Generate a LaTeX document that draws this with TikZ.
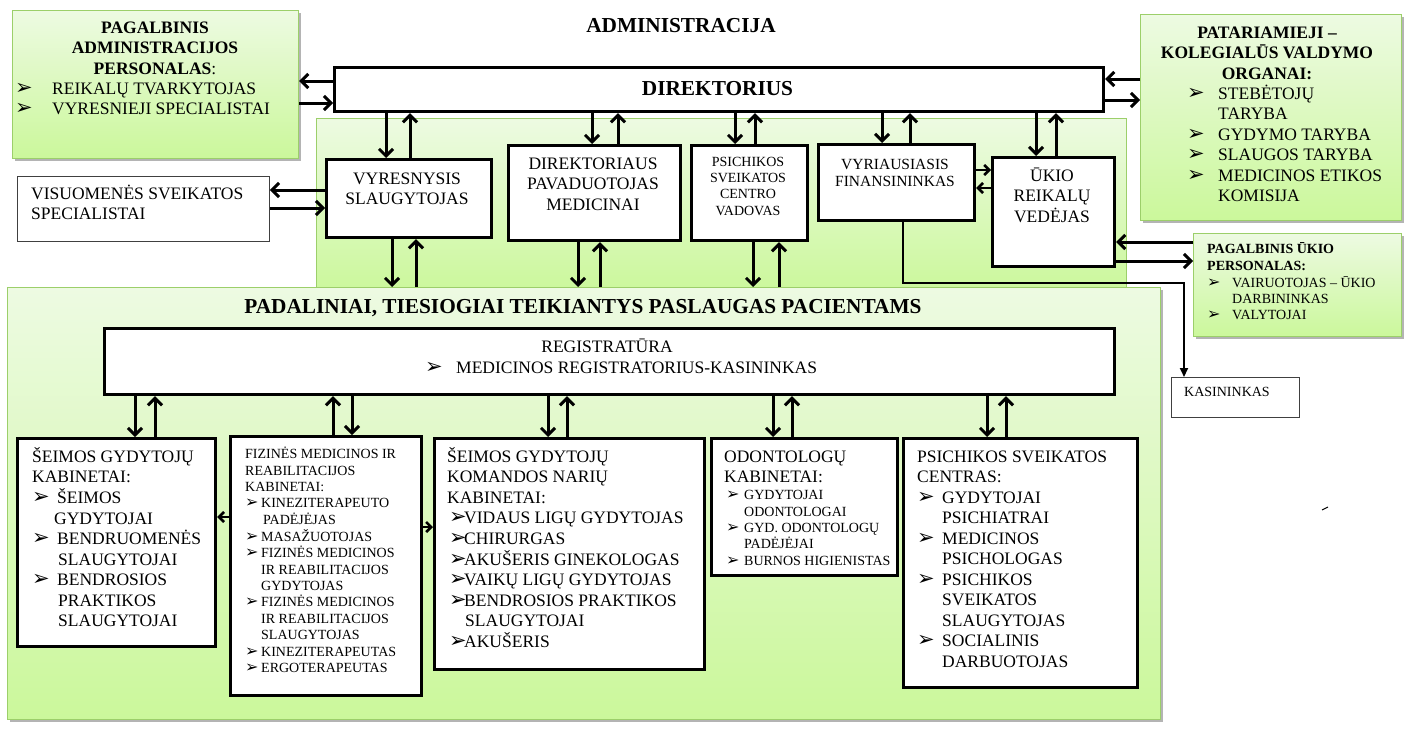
\documentclass[tikz,border=0pt]{standalone}
\usepackage{fontspec}
\setmainfont{Liberation Serif}
\newfontfamily\bulfont{DejaVu Sans}
\usetikzlibrary{arrows.meta,shadows}
\definecolor{gtop}{HTML}{EDFAE2}
\definecolor{gbot}{HTML}{CBF89B}
\definecolor{gline}{HTML}{9CCF6A}
\definecolor{shd}{HTML}{B4B4B4}
\newcommand{\tl}[1]{\begin{tabular}[t]{@{}l@{}}#1\end{tabular}}
\newcommand{\tc}[1]{\begin{tabular}[t]{@{}c@{}}#1\end{tabular}}
\newcommand{\bb}[2]{\makebox[#1][l]{\bulfont\fontsize{#2}{#2}\selectfont ➢}}
\newcommand{\bx}[6]{\node[#1,anchor=north west,minimum width={(#4)-(#2)},minimum height={(#5)-(#3)}] (#6) at (#2,#3) {};}
\begin{document}
\begin{tikzpicture}[x=1pt,y=-1pt,
  gbox/.style={draw=gline,line width=1.2pt,top color=gtop,bottom color=gbot,drop shadow={shadow xshift=2.5pt,shadow yshift=-2.5pt,opacity=1,fill=shd}},
  gzone/.style={draw=gline,line width=1.2pt,top color=gtop,bottom color=gbot},
  blk/.style={draw=black,line width=3.2pt,fill=white},
  thn/.style={draw=black!75,line width=0.9pt,fill=white},
  ar/.style={line width=3pt,-{Straight Barb[length=7pt,width=14pt]}},
  sar/.style={line width=2.6pt,-{Straight Barb[length=5pt,width=10pt]}},
  TX/.style={inner sep=0pt,font=\fontsize{17.5}{20.5}\selectfont},
  SX/.style={inner sep=0pt,font=\fontsize{14}{16.4}\selectfont},
  MX/.style={inner sep=0pt,font=\fontsize{15.5}{17.5}\selectfont},
  BH/.style={inner sep=0pt,font=\fontsize{21.3}{24}\selectfont\bfseries},
  BT/.style={inner sep=0pt,font=\fontsize{17.5}{20.8}\selectfont\bfseries},
  BS/.style={inner sep=0pt,font=\fontsize{14}{17}\selectfont\bfseries}]
\useasboundingbox (0,0) rectangle (1405,731);
% zones
\bx{gzone}{316}{118}{1126}{292}{midz}
\bx{gbox}{7}{287}{1160}{719}{lowz}
\bx{gbox}{12}{10}{298}{158}{pap}
\bx{gbox}{1140}{14}{1401}{220}{pat}
\bx{gbox}{1193}{233}{1401}{336}{puk}
% white boxes
\bx{blk}{333}{66}{1102}{110}{dir}
\bx{thn}{17}{176}{269}{241}{vis}
\bx{blk}{325}{158}{490}{236}{vyr}
\bx{blk}{507}{144}{679}{239}{dpm}
\bx{blk}{690}{144}{806}{239}{psv}
\bx{blk}{817}{143}{973}{219}{fin}
\bx{blk}{991}{156}{1113}{265}{uki}
\bx{thn}{1171}{377}{1299}{417}{kas}
\bx{blk}{103}{327}{1113}{393}{reg}
\bx{blk}{16}{437}{214}{645}{sgk}
\bx{blk}{229}{435}{420}{694}{fmr}
\bx{blk}{433}{437}{703}{668}{sgkn}
\bx{blk}{710}{437}{896}{574}{odo}
\bx{blk}{902}{437}{1136}{686}{psc}
% texts
\node[BH,anchor=base] (tadm) at (681,32) {ADMINISTRACIJA};
\node[BH,anchor=base] (tdir) at (717.5,95) {DIREKTORIUS};
\node[BT,anchor=base] (tpap) at (155,33) {\tc{PAGALBINIS\\ ADMINISTRACIJOS\\ PERSONALAS\textmd{:}}};
\node[TX,anchor=base west] (lpap) at (15,94) {\tl{\bb{37pt}{21}REIKALŲ TVARKYTOJAS\\ \bb{37pt}{21}VYRESNIEJI SPECIALISTAI}};
\node[BT,anchor=base] (tpat) at (1267,38) {\tc{PATARIAMIEJI –\\ KOLEGIALŪS VALDYMO\\ ORGANAI:}};
\node[TX,anchor=base west] (lpat) at (1187,99) {\tl{\bb{31pt}{21}STEBĖTOJŲ\\ \hspace*{31pt}TARYBA\\ \bb{31pt}{21}GYDYMO TARYBA\\ \bb{31pt}{21}SLAUGOS TARYBA\\ \bb{31pt}{21}MEDICINOS ETIKOS\\ \hspace*{31pt}KOMISIJA}};
\node[TX,anchor=base west] (tvis) at (31,199) {\tl{VISUOMENĖS SVEIKATOS\\ SPECIALISTAI}};
\node[TX,anchor=base] (tvyr) at (407,184) {\tc{VYRESNYSIS\\ SLAUGYTOJAS}};
\node[TX,anchor=base] (tdpm) at (593,169) {\tc{DIREKTORIAUS\\ PAVADUOTOJAS\\ MEDICINAI}};
\node[SX,anchor=base] (tpsv) at (748,166) {\tc{PSICHIKOS\\ SVEIKATOS\\ CENTRO\\ VADOVAS}};
\node[MX,anchor=base] (tfin) at (895,169) {\tc{VYRIAUSIASIS\\ FINANSININKAS}};
\node[TX,anchor=base] (tuki) at (1052,181) {\tc{ŪKIO\\ REIKALŲ\\ VEDĖJAS}};
\node[BS,anchor=base west] (tpuk) at (1207,253) {\tl{PAGALBINIS ŪKIO\\ PERSONALAS:}};
\node[SX,anchor=base west] (lpuk) at (1207,287) {\tl{\bb{25pt}{16}VAIRUOTOJAS – ŪKIO\\ \hspace*{25pt}DARBININKAS\\ \bb{25pt}{16}VALYTOJAI}};
\node[SX,anchor=base west] (tkas) at (1184,396.5) {KASININKAS};
\node[BH,anchor=base] (tlow) at (583,313) {PADALINIAI, TIESIOGIAI TEIKIANTYS PASLAUGAS PACIENTAMS};
\node[TX,anchor=base] (treg) at (607,352) {REGISTRATŪRA};
\node[TX,anchor=base west] (lreg) at (425,373) {\bb{31pt}{21}MEDICINOS REGISTRATORIUS-KASININKAS};
\node[TX,anchor=base west] (tsgk) at (32,462) {\tl{ŠEIMOS GYDYTOJŲ\\ KABINETAI:\\ \bb{25pt}{21}ŠEIMOS\\ \hspace*{22pt}GYDYTOJAI\\ \bb{25pt}{21}BENDRUOMENĖS\\ \hspace*{26pt}SLAUGYTOJAI\\ \bb{25pt}{21}BENDROSIOS\\ \hspace*{26pt}PRAKTIKOS\\ \hspace*{26pt}SLAUGYTOJAI}};
\node[SX,anchor=base west] (tfmr) at (245,458.6) {\tl{FIZINĖS MEDICINOS IR\\ REABILITACIJOS\\ KABINETAI:\\ \bb{16pt}{16}KINEZITERAPEUTO\\ \hspace*{18pt}PADĖJĖJAS\\ \bb{16pt}{16}MASAŽUOTOJAS\\ \bb{16pt}{16}FIZINĖS MEDICINOS\\ \hspace*{16pt}IR REABILITACIJOS\\ \hspace*{16pt}GYDYTOJAS\\ \bb{16pt}{16}FIZINĖS MEDICINOS\\ \hspace*{16pt}IR REABILITACIJOS\\ \hspace*{16pt}SLAUGYTOJAS\\ \bb{16pt}{16}KINEZITERAPEUTAS\\ \bb{16pt}{16}ERGOTERAPEUTAS}};
\node[TX,anchor=base west] (tsgkn) at (447,462) {\tl{ŠEIMOS GYDYTOJŲ\\ KOMANDOS NARIŲ\\ KABINETAI:\\ \hspace*{2pt}\bb{15pt}{21}VIDAUS LIGŲ GYDYTOJAS\\ \hspace*{2pt}\bb{15pt}{21}CHIRURGAS\\ \hspace*{2pt}\bb{15pt}{21}AKUŠERIS GINEKOLOGAS\\ \hspace*{2pt}\bb{15pt}{21}VAIKŲ LIGŲ GYDYTOJAS\\ \hspace*{2pt}\bb{15pt}{21}BENDROSIOS PRAKTIKOS\\ \hspace*{18pt}SLAUGYTOJAI\\ \hspace*{2pt}\bb{15pt}{21}AKUŠERIS}};
\node[TX,anchor=base west] (todo) at (724,462) {\tl{ODONTOLOGŲ\\ KABINETAI:}};
\node[SX,anchor=base west] (lodo) at (726,499.6) {\tl{\bb{18pt}{16}GYDYTOJAI\\ \hspace*{18pt}ODONTOLOGAI\\ \bb{18pt}{16}GYD. ODONTOLOGŲ\\ \hspace*{18pt}PADĖJĖJAI\\ \bb{18pt}{16}BURNOS HIGIENISTAS}};
\node[TX,anchor=base west] (tpsc) at (917,462) {\tl{PSICHIKOS SVEIKATOS\\ CENTRAS:\\ \bb{25pt}{21}GYDYTOJAI\\ \hspace*{25pt}PSICHIATRAI\\ \bb{25pt}{21}MEDICINOS\\ \hspace*{25pt}PSICHOLOGAS\\ \bb{25pt}{21}PSICHIKOS\\ \hspace*{25pt}SVEIKATOS\\ \hspace*{25pt}SLAUGYTOJAS\\ \bb{25pt}{21}SOCIALINIS\\ \hspace*{25pt}DARBUOTOJAS}};
% arrows: direktorius
\draw[ar] (dir.west |- 0,81) -- (pap.east |- 0,81);
\draw[ar] (pap.east |- 0,103) -- (dir.west |- 0,103);
\draw[ar] (dir.east |- 0,100) -- (pat.west |- 0,100);
\draw[ar] (pat.west |- 0,79) -- (dir.east |- 0,79);
\draw[ar] (386,0 |- dir.south) -- (386,0 |- vyr.north);
\draw[ar] (410,0 |- vyr.north) -- (410,0 |- dir.south);
\draw[ar] (592,0 |- dir.south) -- (592,0 |- dpm.north);
\draw[ar] (618,0 |- dpm.north) -- (618,0 |- dir.south);
\draw[ar] (735,0 |- dir.south) -- (735,0 |- psv.north);
\draw[ar] (755,0 |- psv.north) -- (755,0 |- dir.south);
\draw[ar] (882,0 |- dir.south) -- (882,0 |- fin.north);
\draw[ar] (910,0 |- fin.north) -- (910,0 |- dir.south);
\draw[ar] (1036,0 |- dir.south) -- (1036,0 |- uki.north);
\draw[ar] (1056,0 |- uki.north) -- (1056,0 |- dir.south);
% side arrows
\draw[ar] (vyr.west |- 0,190) -- (vis.east |- 0,190);
\draw[ar] (vis.east |- 0,208) -- (vyr.west |- 0,208);
\draw[sar] (fin.east |- 0,170) -- (uki.west |- 0,170);
\draw[sar] (uki.west |- 0,188) -- (fin.east |- 0,188);
\draw[ar] (puk.west |- 0,242) -- (uki.east |- 0,242);
\draw[ar] (uki.east |- 0,261) -- (puk.west |- 0,261);
\coordinate (kc) at (1184,283);
\draw[line width=1.8pt,-{Triangle[length=9pt,width=8pt]}] (903,0 |- fin.south) |- (kc) -- (kc |- kas.north);
% to lower zone
\draw[ar] (392,0 |- vyr.south) -- (392,0 |- lowz.north);
\draw[ar] (416,0 |- lowz.north) -- (416,0 |- vyr.south);
\draw[ar] (578,0 |- dpm.south) -- (578,0 |- lowz.north);
\draw[ar] (600,0 |- lowz.north) -- (600,0 |- dpm.south);
\draw[ar] (753,0 |- psv.south) -- (753,0 |- lowz.north);
\draw[ar] (779,0 |- lowz.north) -- (779,0 |- psv.south);
% registratura
\draw[ar] (135,0 |- reg.south) -- (135,0 |- sgk.north);
\draw[ar] (155,0 |- sgk.north) -- (155,0 |- reg.south);
\draw[ar] (333,0 |- fmr.north) -- (333,0 |- reg.south);
\draw[ar] (352,0 |- reg.south) -- (352,0 |- fmr.north);
\draw[ar] (548,0 |- reg.south) -- (548,0 |- sgkn.north);
\draw[ar] (567,0 |- sgkn.north) -- (567,0 |- reg.south);
\draw[ar] (773,0 |- reg.south) -- (773,0 |- odo.north);
\draw[ar] (792,0 |- odo.north) -- (792,0 |- reg.south);
\draw[ar] (987,0 |- reg.south) -- (987,0 |- psc.north);
\draw[ar] (1006,0 |- psc.north) -- (1006,0 |- reg.south);
\draw[sar] (fmr.west |- 0,517) -- (sgk.east |- 0,517);
\draw[sar] (fmr.east |- 0,527) -- (sgkn.west |- 0,527);
\draw[line width=1pt] (1322,510) -- (1328,507);
\end{tikzpicture}
\end{document}
